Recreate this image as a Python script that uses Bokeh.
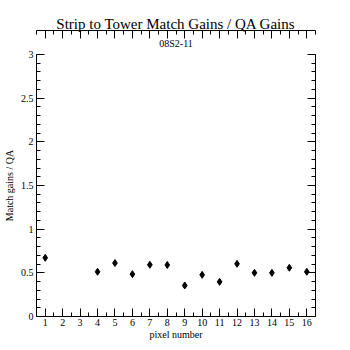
from bokeh.plotting import figure
from bokeh.models import FixedTicker, LinearAxis, Range1d, Title, ColumnDataSource
from bokeh.embed import file_html
from bokeh.resources import INLINE

pixels = [1, 4, 5, 6, 7, 8, 9, 10, 11, 12, 13, 14, 15, 16]
ratios = [0.672, 0.512, 0.612, 0.485, 0.592, 0.590, 0.355, 0.477, 0.397, 0.603, 0.500, 0.500, 0.558, 0.512]
errors = [0.01, 0.01, 0.01, 0.01, 0.01, 0.01, 0.025, 0.01, 0.01, 0.022, 0.01, 0.01, 0.01, 0.02]
x_ticks = list(range(1, 17))
y_ticks = [0, 0.5, 1, 1.5, 2, 2.5, 3]

FONT = "Liberation Serif"

p = figure(width=350, height=350, output_backend="svg", toolbar_location=None,
           x_range=Range1d(0.5, 16.5), y_range=Range1d(0, 3),
           min_border_left=36, min_border_right=35, min_border_top=54, min_border_bottom=34,
           x_axis_location=None, y_axis_location=None)
p.title.text = "Strip to Tower Match Gains / QA Gains"
p.title.text_font = FONT
p.title.text_font_size = "15px"
p.title.text_font_style = "normal"
p.title.align = "center"
p.title.text_color = "black"
p.title.standoff = -2
p.add_layout(Title(text="08S2-11", text_font=FONT, text_font_size="10px",
                   text_font_style="normal", align="center", text_color="black",
                   standoff=11), "above")
p.grid.visible = False
p.outline_line_color = None
p.background_fill_color = "white"
p.border_fill_color = "white"

def style(ax, labels=True):
    ax.axis_line_color = "black"
    ax.major_tick_line_color = "black"
    ax.minor_tick_line_color = "black"
    ax.major_tick_in = 8
    ax.major_tick_out = 0
    ax.minor_tick_in = 4
    ax.minor_tick_out = 0
    ax.major_label_text_font = FONT
    ax.major_label_text_font_size = "10px"
    ax.major_label_text_color = "black"
    ax.axis_label_text_font = FONT
    ax.axis_label_text_font_size = "10px"
    ax.axis_label_text_font_style = "normal"
    ax.axis_label_text_color = "black"
    if not labels:
        ax.major_label_overrides = {t: "" for t in ax.ticker.ticks}
        ax.major_label_standoff = 0

xt = FixedTicker(ticks=x_ticks, minor_ticks=[i + 0.5 for i in range(0, 17)])
yt = FixedTicker(ticks=y_ticks, minor_ticks=[i / 10 for i in range(0, 31)])

xb = LinearAxis(ticker=xt, axis_label="pixel number")
style(xb)
xb.major_label_standoff = 2
xb.axis_label_standoff = 0
p.add_layout(xb, "below")
xa = LinearAxis(ticker=xt)
style(xa, False)
p.add_layout(xa, "above")

yl = LinearAxis(ticker=yt, axis_label="Match gains / QA")
style(yl)
yl.major_label_standoff = 3
yl.axis_label_standoff = 3
p.add_layout(yl, "left")
yr = LinearAxis(ticker=yt)
style(yr, False)
p.add_layout(yr, "right")

src = ColumnDataSource(dict(x=pixels, y=ratios,
                            lo=[r - e for r, e in zip(ratios, errors)],
                            hi=[r + e for r, e in zip(ratios, errors)]))
p.segment(x0="x", x1="x", y0="lo", y1="hi", source=src, line_color="black", line_width=2)
p.scatter(x="x", y="y", source=src, marker="diamond", size=7, fill_color="black", line_color="black")

open("out.html", "w").write(file_html(p, INLINE))
